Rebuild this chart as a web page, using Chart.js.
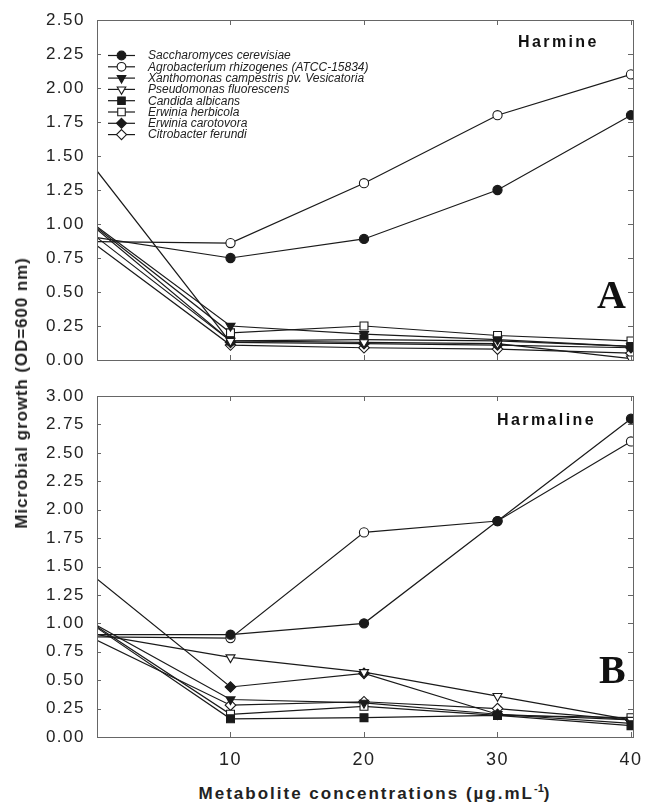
<!DOCTYPE html>
<html>
<head>
<meta charset="utf-8">
<script src="https://cdn.jsdelivr.net/npm/chart.js@4.4.1/dist/chart.umd.min.js"></script>
<style>
  html, body { margin: 0; padding: 0; background: #fff; }
  body { width: 645px; height: 804px; position: relative; overflow: hidden; font-family: "Liberation Sans", Arial, sans-serif; }
  .panel { position: absolute; left: 0; width: 645px; }
  #panelA { top: 0; height: 380px; }
  #panelB { top: 380px; height: 390px; }
  .ytitle {
    position: absolute; left: 22px; top: 393px;
    transform: translate(-50%, -50%) rotate(-90deg);
    white-space: nowrap; font-weight: bold; font-size: 17px; letter-spacing: 0.9px; color: #222;
  }
  .xtitle {
    position: absolute; left: 375px; top: 793px;
    transform: translate(-50%, -50%);
    white-space: nowrap; font-weight: bold; font-size: 17px; letter-spacing: 2px; color: #222;
  }
  .xtitle sup { font-size: 11px; letter-spacing: 0; }
</style>
</head>
<body>
<div class="panel" id="panelA"><canvas id="chartA"></canvas></div>
<div class="panel" id="panelB"><canvas id="chartB"></canvas></div>
<div class="ytitle">Microbial growth (OD=600 nm)</div>
<div class="xtitle">Metabolite concentrations (µg.mL<sup>-1</sup>)</div>
<script>
// x values (µg/mL); 0 = control
const concentrations = [0, 10, 20, 30, 40];
const xTicks = [10, 20, 30, 40];

const speciesNames = [
  'Saccharomyces cerevisiae',
  'Agrobacterium rhizogenes (ATCC-15834)',
  'Xanthomonas campestris pv. Vesicatoria',
  'Pseudomonas fluorescens',
  'Candida albicans',
  'Erwinia herbicola',
  'Erwinia carotovora',
  'Citrobacter ferundi'
];

// Panel A - Harmine
const harmineSacch   = [0.90, 0.75, 0.89, 1.25, 1.80];
const harmineAgro    = [0.87, 0.86, 1.30, 1.80, 2.10];
const harmineXanth   = [0.98, 0.25, 0.19, 0.15, 0.10];
const harminePseudo  = [0.90, 0.14, 0.13, 0.12, 0.01];
const harmineCandida = [0.96, 0.14, 0.15, 0.14, 0.10];
const harmineHerb    = [0.97, 0.20, 0.25, 0.18, 0.14];
const harmineCarot   = [1.39, 0.13, 0.12, 0.11, 0.09];
const harmineCitro   = [0.84, 0.11, 0.09, 0.08, 0.05];

// Panel B - Harmaline
const harmalineSacch   = [0.90, 0.90, 1.00, 1.90, 2.80];
const harmalineAgro    = [0.88, 0.87, 1.80, 1.90, 2.60];
const harmalineXanth   = [0.98, 0.33, 0.30, 0.20, 0.12];
const harmalinePseudo  = [0.90, 0.70, 0.57, 0.36, 0.15];
const harmalineCandida = [0.96, 0.16, 0.17, 0.19, 0.10];
const harmalineHerb    = [0.97, 0.20, 0.27, 0.19, 0.17];
const harmalineCarot   = [1.39, 0.44, 0.56, 0.20, 0.15];
const harmalineCitro   = [0.85, 0.28, 0.31, 0.25, 0.15];

// marker look per species
const markerShapes = ['circle', 'circle', 'triangle', 'triangle', 'rect', 'rect', 'rectRot', 'rectRot'];
const markerFilled = [true, false, true, false, true, false, true, false];
const markerRot    = [0, 0, 180, 180, 0, 0, 0, 0];
const markerSize   = [4.6, 4.6, 5.2, 5.2, 5.6, 5.6, 5.3, 5.3];

const INK = '#1a1a1a';
const FRAME = '#666';
const TICK_FONT = '"Liberation Sans", Arial, sans-serif';

function buildDatasets(seriesList) {
  return seriesList.map((vals, i) => ({
    label: speciesNames[i],
    data: concentrations.map((x, j) => ({ x, y: vals[j] })),
    borderColor: INK,
    borderWidth: 1.2,
    backgroundColor: markerFilled[i] ? INK : '#fff',
    pointBackgroundColor: markerFilled[i] ? INK : '#fff',
    pointBorderColor: INK,
    pointBorderWidth: 1.1,
    pointStyle: markerShapes[i],
    pointRotation: markerRot[i],
    // no marker drawn at the control point
    pointRadius: concentrations.map(x => x === 0 ? 0 : markerSize[i]),
    tension: 0,
    clip: 0
  }));
}

// frame + short inward ticks
const framePlugin = {
  id: 'frame',
  afterDatasetsDraw(chart) {
    const { ctx, chartArea: a, scales } = chart;
    ctx.save();
    ctx.strokeStyle = FRAME;
    ctx.lineWidth = 1;
    ctx.strokeRect(a.left + 0.5, a.top + 0.5, a.right - a.left, a.bottom - a.top);
    ctx.beginPath();
    xTicks.forEach(v => {
      const px = Math.round(scales.x.getPixelForValue(v)) + 0.5;
      ctx.moveTo(px, a.top); ctx.lineTo(px, a.top + 5);
      ctx.moveTo(px, a.bottom); ctx.lineTo(px, a.bottom - 5);
    });
    scales.y.ticks.forEach(t => {
      const py = Math.round(scales.y.getPixelForValue(t.value)) + 0.5;
      ctx.moveTo(a.right, py); ctx.lineTo(a.right - 5, py);
      ctx.moveTo(a.left, py); ctx.lineTo(a.left + 4, py);
    });
    ctx.stroke();
    ctx.restore();
  }
};

function drawMarker(ctx, shape, filled, rot, r, x, y) {
  ctx.beginPath();
  if (shape === 'circle') {
    ctx.arc(x, y, r, 0, Math.PI * 2);
  } else if (shape === 'rect') {
    const s = r * Math.SQRT1_2;
    ctx.rect(x - s, y - s, 2 * s, 2 * s);
  } else if (shape === 'rectRot') {
    ctx.moveTo(x, y - r); ctx.lineTo(x + r, y); ctx.lineTo(x, y + r); ctx.lineTo(x - r, y); ctx.closePath();
  } else if (shape === 'triangle') {
    const dir = rot === 180 ? 1 : -1;  // 180 -> apex down
    ctx.moveTo(x, y + dir * r);
    ctx.lineTo(x - r * 0.866, y - dir * r * 0.5);
    ctx.lineTo(x + r * 0.866, y - dir * r * 0.5);
    ctx.closePath();
  }
  ctx.fillStyle = filled ? INK : '#fff';
  ctx.fill();
  ctx.strokeStyle = INK;
  ctx.lineWidth = 1.1;
  ctx.stroke();
}

const legendPlugin = {
  id: 'insideLegend',
  afterDraw(chart, args, opts) {
    if (!opts.show) return;
    const { ctx } = chart;
    ctx.save();
    ctx.letterSpacing = '0px';
    chart.data.datasets.forEach((ds, i) => {
      const y = 55.5 + i * 11.3;
      ctx.strokeStyle = INK;
      ctx.lineWidth = 1.2;
      ctx.beginPath();
      ctx.moveTo(108, y); ctx.lineTo(135, y);
      ctx.stroke();
      drawMarker(ctx, markerShapes[i], markerFilled[i], markerRot[i], markerSize[i] * 0.95, 121.5, y);
      ctx.fillStyle = '#222';
      ctx.font = 'italic 12px ' + TICK_FONT;
      ctx.textBaseline = 'middle';
      ctx.fillText(ds.label, 148, y + 0.5);
    });
    ctx.restore();
  }
};

const tagPlugin = {
  id: 'panelTags',
  beforeDraw(chart) {
    // wider tracking for the axis numbers, like the original figure
    chart.ctx.letterSpacing = '1.5px';
  },
  afterDraw(chart, args, opts) {
    const { ctx } = chart;
    ctx.save();
    ctx.fillStyle = '#111';
    ctx.textBaseline = 'alphabetic';
    ctx.font = 'bold 16px ' + TICK_FONT;
    ctx.letterSpacing = '2.4px';
    ctx.fillText(opts.name, opts.nameX, opts.nameY);
    ctx.letterSpacing = '0px';
    ctx.font = 'bold 40px "Liberation Serif", "Times New Roman", serif';
    ctx.fillText(opts.letter, opts.letterX, opts.letterY);
    ctx.restore();
  }
};

function makeChart(id, seriesList, yMax, opts) {
  return new Chart(document.getElementById(id), {
    type: 'line',
    data: { datasets: buildDatasets(seriesList) },
    plugins: [framePlugin, legendPlugin, tagPlugin],
    options: {
      responsive: true,
      maintainAspectRatio: false,
      animation: false,
      layout: { padding: { top: opts.padTop, right: 12, bottom: opts.padBottom, left: 0 } },
      plugins: {
        legend: { display: false },
        tooltip: { enabled: false },
        insideLegend: { show: opts.legend },
        panelTags: opts.tags
      },
      scales: {
        x: {
          type: 'linear', min: 0, max: 40.15,
          afterBuildTicks: s => { s.ticks = xTicks.map(v => ({ value: v })); },
          afterFit: s => { s.height = opts.xHeight; s.paddingLeft = 0; s.paddingRight = 0; },
          grid: { display: false, drawTicks: false },
          border: { display: false },
          ticks: {
            display: opts.xLabels, padding: 12, maxRotation: 0,
            color: '#222', font: { size: 18, family: TICK_FONT }
          }
        },
        y: {
          min: 0, max: yMax,
          afterFit: s => { s.width = 97; s.paddingTop = 0; s.paddingBottom = 0; },
          grid: { display: false, drawTicks: false },
          border: { display: false },
          ticks: {
            stepSize: 0.25, padding: 12,
            color: '#222', font: { size: 17, family: TICK_FONT },
            callback: v => v.toFixed(2)
          }
        }
      }
    }
  });
}

makeChart('chartA',
  [harmineSacch, harmineAgro, harmineXanth, harminePseudo, harmineCandida, harmineHerb, harmineCarot, harmineCitro],
  2.5,
  { padTop: 20, padBottom: 20, xHeight: 0, xLabels: false, legend: true,
    tags: { name: 'Harmine', nameX: 518, nameY: 47, letter: 'A', letterX: 597, letterY: 308 } });

makeChart('chartB',
  [harmalineSacch, harmalineAgro, harmalineXanth, harmalinePseudo, harmalineCandida, harmalineHerb, harmalineCarot, harmalineCitro],
  3.0,
  { padTop: 16, padBottom: 3, xHeight: 30, xLabels: true, legend: false,
    tags: { name: 'Harmaline', nameX: 497, nameY: 425 - 380, letter: 'B', letterX: 599, letterY: 683 - 380 } });
</script>
</body>
</html>
